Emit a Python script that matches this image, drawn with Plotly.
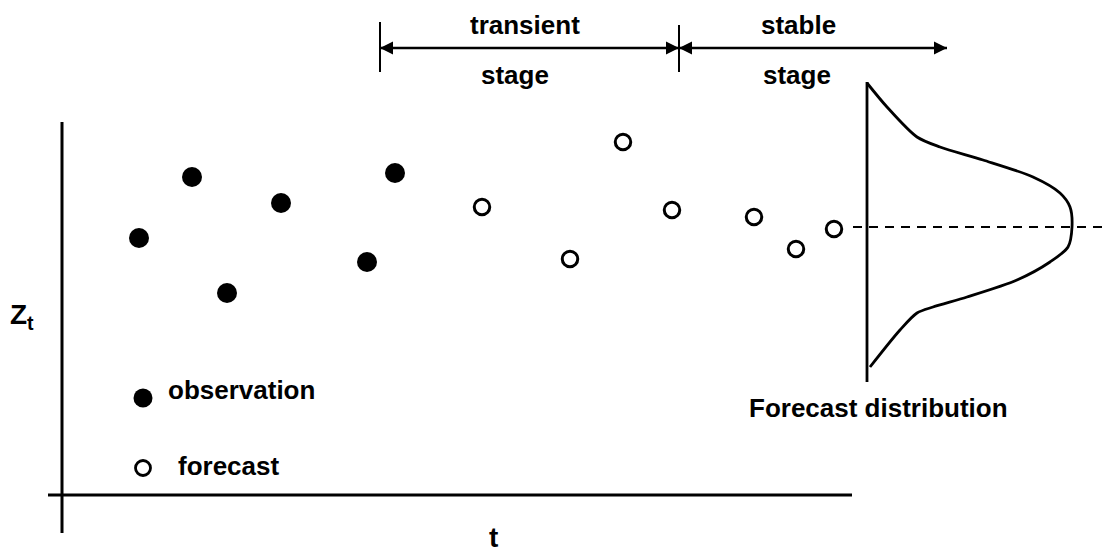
import plotly.graph_objects as go

# ---- data (t positions and Z heights) ----
obs_t = [139, 192, 227, 281, 367, 395]
obs_z = [317, 378, 262, 352, 293, 382]

fc_t = [482, 570, 623, 672, 754, 796, 834]
fc_z = [348, 296, 413, 345, 338, 306, 326]

# forecast distribution: density (horizontal offset) vs Z
dist_z = [472, 448, 418, 408, 395, 378, 362, 348, 328, 308, 293, 275, 258, 248, 242, 225, 188]
dist_density = [0, 20, 50, 73, 116, 166, 193, 203, 205, 201, 183, 150, 100, 66, 50, 33, 3]
dist_base_t = 867
forecast_mean = 328

# stage boundaries along t
stage_bounds = [380, 679, 947]

W, H = 1102, 555
FONT = "Liberation Sans, Arial, sans-serif"
BLACK = "#000000"

fig = go.Figure()

# observations
fig.add_trace(go.Scatter(
    x=obs_t, y=obs_z, mode="markers",
    marker=dict(symbol="circle", size=20, color=BLACK),
    showlegend=False, hoverinfo="skip"))

# forecasts
fig.add_trace(go.Scatter(
    x=fc_t, y=fc_z, mode="markers",
    marker=dict(symbol="circle-open", size=15.5, color=BLACK, line=dict(width=3, color=BLACK)),
    showlegend=False, hoverinfo="skip"))

# distribution curve
fig.add_trace(go.Scatter(
    x=[dist_base_t + d for d in dist_density], y=dist_z, mode="lines",
    line=dict(color=BLACK, width=2.8, shape="spline", smoothing=0.8),
    showlegend=False, hoverinfo="skip"))

# legend markers
fig.add_trace(go.Scatter(
    x=[143], y=[157], mode="markers",
    marker=dict(symbol="circle", size=19, color=BLACK),
    showlegend=False, hoverinfo="skip"))
fig.add_trace(go.Scatter(
    x=[143], y=[87], mode="markers",
    marker=dict(symbol="circle-open", size=15, color=BLACK, line=dict(width=2.8, color=BLACK)),
    showlegend=False, hoverinfo="skip"))

# stage arrows (double headed)
for a, b in zip(stage_bounds[:-1], stage_bounds[1:]):
    fig.add_trace(go.Scatter(
        x=[a, b], y=[507, 507], mode="lines+markers",
        line=dict(color=BLACK, width=2.6),
        marker=dict(symbol=["arrow-left", "arrow-right"], size=13, color=BLACK,
                    line=dict(width=0)),
        showlegend=False, hoverinfo="skip"))

shapes = [
    # axes
    dict(type="line", x0=62, x1=62, y0=22, y1=433, line=dict(color=BLACK, width=3)),
    dict(type="line", x0=48, x1=852, y0=60, y1=60, line=dict(color=BLACK, width=3)),
    # distribution base line
    dict(type="line", x0=dist_base_t, x1=dist_base_t, y0=173, y1=473, line=dict(color=BLACK, width=2.8)),
    # dashed mean line
    dict(type="line", x0=853, x1=1102, y0=forecast_mean, y1=forecast_mean,
         line=dict(color=BLACK, width=2.2, dash="9px,7px")),
    # stage ticks
    dict(type="line", x0=stage_bounds[0], x1=stage_bounds[0], y0=483, y1=533, line=dict(color=BLACK, width=2)),
    dict(type="line", x0=stage_bounds[1], x1=stage_bounds[1], y0=483, y1=530, line=dict(color=BLACK, width=2)),
]

annotations = []


def txt(x, y, s, size=26, xanchor="center"):
    annotations.append(dict(
        x=x, y=y, xref="x", yref="y", text=s, showarrow=False,
        xanchor=xanchor, yanchor="middle",
        font=dict(family=FONT, size=size, color=BLACK)))


txt(525, 530, "<b>transient</b>")
txt(515, 480, "<b>stage</b>")
txt(798, 530, "<b>stable</b>")
txt(797, 480, "<b>stage</b>")
txt(166, 165, "<b>observation</b>", xanchor="left")
txt(176, 89, "<b>forecast</b>", xanchor="left")
txt(878, 147, "<b>Forecast distribution</b>")
txt(8, 239, "<b>Z<sub>t</sub></b>", size=28, xanchor="left")
txt(493, 18, "<b>t</b>", size=28)

fig.update_layout(
    width=W, height=H,
    margin=dict(l=0, r=0, t=0, b=0),
    paper_bgcolor="white", plot_bgcolor="white",
    xaxis=dict(range=[0, W], visible=False, fixedrange=True),
    yaxis=dict(range=[0, H], visible=False, fixedrange=True),
    shapes=shapes, annotations=annotations,
    showlegend=False,
)

fig.write_html(
    "out.html",
    config={"displayModeBar": False},
    post_script="document.body.style.margin='0';document.body.style.overflow='hidden';",
)
